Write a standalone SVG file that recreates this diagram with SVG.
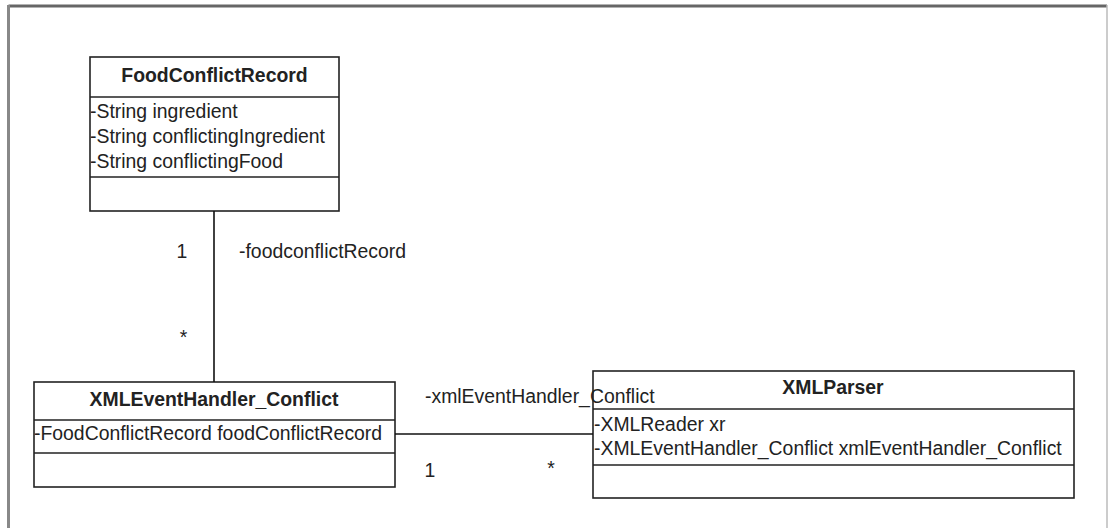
<svg xmlns="http://www.w3.org/2000/svg" width="1108" height="528" viewBox="0 0 1108 528">
<style>
.box{fill:#fff;stroke:#222;stroke-width:1.6}
.div{stroke:#222;stroke-width:1.6}
text{font-family:"Liberation Sans",Arial,sans-serif;font-size:19.4px;fill:#222}
.title{font-weight:bold;text-anchor:middle}
.conn{stroke:#111;stroke-width:1.6;fill:none}
</style>
<rect width="1108" height="528" fill="#fff"/>
<g id="frame">
<line x1="8.5" y1="6" x2="1107" y2="6" stroke="#666" stroke-width="3"/>
<line x1="8.5" y1="5" x2="8.5" y2="528" stroke="#888" stroke-width="3"/>
<line x1="1107" y1="5" x2="1107" y2="528" stroke="#bbb" stroke-width="1.5"/>
</g>
<g id="FoodConflictRecord">
<rect class="box" x="90" y="57" width="249" height="154"/>
<line class="div" x1="90" y1="97" x2="339" y2="97"/>
<line class="div" x1="90" y1="177" x2="339" y2="177"/>
<text class="title" x="214.5" y="82">FoodConflictRecord</text>
<text x="90" y="118">-String ingredient</text>
<text x="90" y="143">-String conflictingIngredient</text>
<text x="90" y="168">-String conflictingFood</text>
</g>
<g id="XMLEventHandler_Conflict">
<rect class="box" x="34" y="382" width="361" height="105"/>
<line class="div" x1="34" y1="420" x2="395" y2="420"/>
<line class="div" x1="34" y1="453" x2="395" y2="453"/>
<text class="title" x="214" y="406">XMLEventHandler_Conflict</text>
<text x="34" y="440">-FoodConflictRecord foodConflictRecord</text>
</g>
<g id="XMLParser">
<rect class="box" x="593" y="371" width="481" height="127"/>
<line class="div" x1="593" y1="409" x2="1074" y2="409"/>
<line class="div" x1="593" y1="465" x2="1074" y2="465"/>
<text class="title" x="833" y="394">XMLParser</text>
<text x="594" y="431">-XMLReader xr</text>
<text x="594" y="455">-XMLEventHandler_Conflict xmlEventHandler_Conflict</text>
</g>
<g id="connectors">
<line class="conn" x1="214" y1="211" x2="214" y2="382"/>
<line class="conn" x1="395" y1="434" x2="593" y2="434"/>
<text x="182" y="258" text-anchor="middle">1</text>
<text x="239" y="258">-foodconflictRecord</text>
<text x="183.5" y="344" text-anchor="middle">*</text>
<text x="425" y="402.5">-xmlEventHandler_Conflict</text>
<text x="430" y="477" text-anchor="middle">1</text>
<text x="551" y="475" text-anchor="middle">*</text>
</g>
</svg>
